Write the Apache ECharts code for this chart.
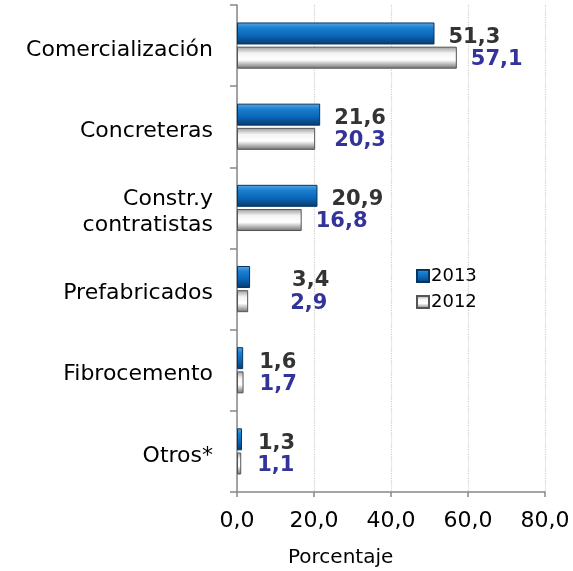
<!DOCTYPE html>
<html>
<head>
<meta charset="utf-8">
<script src="https://cdn.jsdelivr.net/npm/echarts@6/dist/echarts.min.js"></script>
<style>
html, body { margin: 0; padding: 0; background: #fff; }
#chart { width: 573px; height: 571px; }
</style>
</head>
<body>
<div id="chart"></div>
<script>
// categorias y valores (porcentaje)
var categorias = ['Comercialización', 'Concreteras', 'Constr.y\ncontratistas', 'Prefabricados', 'Fibrocemento', 'Otros*'];
var valores2013 = [51.3, 21.6, 20.9, 3.4, 1.6, 1.3];
var valores2012 = [57.1, 20.3, 16.8, 2.9, 1.7, 1.1];
var ticksX = [0, 20, 40, 60, 80];

var FONT = '"DejaVu Sans", "Liberation Sans", Arial, sans-serif';

// separacion extra de etiquetas (ajuste visual)
function distancia(i, serie) {
    if (i == 3) return 42;
    if (i >= 4) return 16;
    if (serie == 2012 && i == 1) return 19;
    return 14;
}

function fmt(v) {
    return v.toFixed(1).replace('.', ',');
}

var azul = {
    type: 'linear', x: 0, y: 0, x2: 0, y2: 1,
    colorStops: [
        { offset: 0, color: '#5aa8e6' },
        { offset: 0.25, color: '#1a7fd0' },
        { offset: 0.6, color: '#0b66b8' },
        { offset: 1, color: '#083a6a' }
    ]
};
var gris = {
    type: 'linear', x: 0, y: 0, x2: 0, y2: 1,
    colorStops: [
        { offset: 0, color: '#9a9a9a' },
        { offset: 0.3, color: '#f4f4f4' },
        { offset: 0.6, color: '#ffffff' },
        { offset: 1, color: '#6e6e6e' }
    ]
};

function serieDatos(valores, anio) {
    return valores.map(function(v, i) {
        return { value: v, label: { distance: distancia(i, anio) } };
    });
}

//bajar un poco las etiquetas de categoria
function etiquetaCategoria(v) {
    return '{s| }\n' + v.split('\n').map(function(l) { return '{t|' + l + '}'; }).join('\n');
}

var chart = echarts.init(document.getElementById('chart'));
chart.setOption({
    animation: false,
    textStyle: { fontFamily: FONT },
    title: {
        text: 'Porcentaje',
        left: 288,
        top: 548,
        padding: 0,
        textStyle: { fontSize: 20, fontWeight: 'normal', color: '#000', fontFamily: FONT }
    },
    legend: {
        orient: 'vertical',
        left: 411,
        top: 262,
        itemWidth: 12,
        itemHeight: 12,
        itemGap: 8,
        icon: 'rect',
        textStyle: { fontSize: 18, color: '#000', fontFamily: FONT, padding: [0, 0, 0, -3] },
        data: ['2013', '2012']
    },
    grid: { left: 237, right: 28, top: 5, bottom: 79 },
    xAxis: {
        type: 'value',
        min: 0,
        max: 80,
        interval: 20,
        axisLine: { show: true, lineStyle: { color: '#888', width: 1.5 } },
        axisTick: { show: true, length: 5, lineStyle: { color: '#888', width: 1.5 } },
        axisLabel: {
            fontSize: 22, color: '#000', margin: 18, fontFamily: FONT,
            formatter: function(v) { return fmt(v); }
        },
        splitLine: { show: true, lineStyle: { color: '#cfcfcf', type: 'dotted', width: 1.2 } }
    },
    yAxis: {
        type: 'category',
        inverse: true,
        data: categorias,
        axisLine: { show: true, lineStyle: { color: '#888', width: 1.5 } },
        axisTick: { show: true, length: 7, lineStyle: { color: '#888', width: 1.5 } },
        axisLabel: {
            margin: 24, align: 'right',
            formatter: etiquetaCategoria,
            rich: {
                s: { fontSize: 2, lineHeight: 9 },
                t: { fontSize: 22, lineHeight: 26, color: '#000', fontFamily: FONT, align: 'right' }
            }
        }
    },
    series: [
        {
            name: '2013',
            type: 'bar',
            barWidth: 22,
            barGap: '10%',
            data: serieDatos(valores2013, 2013),
            itemStyle: { color: azul, borderColor: '#063460', borderWidth: 1 },
            label: {
                show: true, position: 'right', offset: [0, 4],
                fontSize: 21, fontWeight: 'bold', color: '#333333', fontFamily: FONT,
                formatter: function(p) { return fmt(p.value); }
            }
        },
        {
            name: '2012',
            type: 'bar',
            barWidth: 22,
            data: serieDatos(valores2012, 2012),
            itemStyle: { color: gris, borderColor: '#555', borderWidth: 1 },
            label: {
                show: true, position: 'right', offset: [0, 2],
                fontSize: 21, fontWeight: 'bold', color: '#333399', fontFamily: FONT,
                formatter: function(p) { return fmt(p.value); }
            }
        }
    ]
});
</script>
</body>
</html>
